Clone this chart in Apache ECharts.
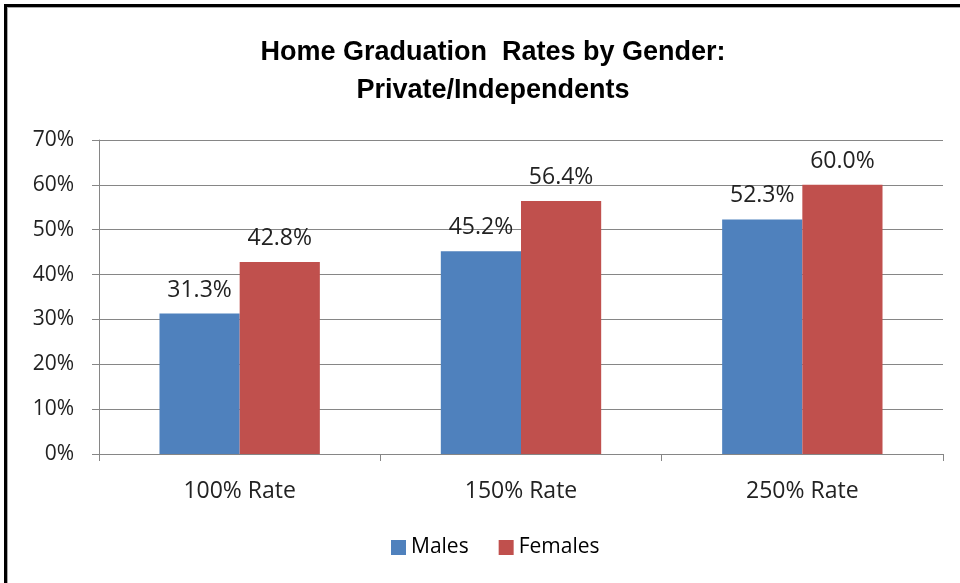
<!DOCTYPE html>
<html>
<head>
<meta charset="UTF-8">
<title>Home Graduation Rates by Gender</title>
<script src="https://cdn.jsdelivr.net/npm/echarts@6/dist/echarts.min.js"></script>
<style>
    html, body { margin: 0; padding: 0; background: #fff; }
    #frame {
        position: absolute; left: 4px; top: 4px; width: 960px; height: 590px;
        border-top: 3px solid #000; border-left: 3px solid #000;
        box-shadow: inset 1px 1px 0 #aaa;
    }
    #chart { position: absolute; left: 0; top: 0; width: 960px; height: 583px; }
</style>
</head>
<body>
<div id="frame"></div>
<div id="chart"></div>
<script>
    var categories = ['100% Rate', '150% Rate', '250% Rate'];
    var males = [31.3, 45.2, 52.3];
    var females = [42.8, 56.4, 60.0];

    var chart = echarts.init(document.getElementById('chart'));
    var labelStyle = {
        show: true,
        position: 'top',
        distance: 12,
        color: '#222',
        fontFamily: 'Open Sans',
        fontSize: 23,
        formatter: function (p) { return p.value.toFixed(1) + '%'; }
    };
    chart.setOption({
        animation: false,
        title: {
            text: 'Home Graduation  Rates by Gender:\nPrivate/Independents',
            left: 488,
            textAlign: 'center',
            top: 29,
            textStyle: {
                fontFamily: 'Liberation Sans',
                fontWeight: 'bold',
                fontSize: 27,
                lineHeight: 38,
                color: '#000'
            }
        },
        legend: {
            data: ['Males', 'Females'],
            top: 532,
            left: 386,
            itemWidth: 15,
            itemHeight: 15,
            itemGap: 30,
            icon: 'rect',
            textStyle: { fontFamily: 'Open Sans', fontSize: 21, color: '#000' }
        },
        grid: { left: 99, right: 17, top: 140, bottom: 129, containLabel: false },
        xAxis: {
            type: 'category',
            data: categories,
            axisLine: { lineStyle: { color: '#868686', width: 1 } },
            axisTick: { show: true, length: 7, lineStyle: { color: '#868686' } },
            axisLabel: { fontFamily: 'Open Sans', fontSize: 23, color: '#222', margin: 26 }
        },
        yAxis: {
            type: 'value',
            min: 0,
            max: 70,
            interval: 10,
            axisLine: { show: true, lineStyle: { color: '#868686' } },
            axisTick: { show: true, length: 7, lineStyle: { color: '#868686' } },
            splitLine: { lineStyle: { color: '#868686' } },
            axisLabel: {
                fontFamily: 'Open Sans', fontSize: 21, color: '#222', margin: 25,
                formatter: '{value}%'
            }
        },
        series: [
            {
                name: 'Males', type: 'bar', data: males,
                barGap: '0%', barCategoryGap: '43%',
                itemStyle: { color: '#4F81BD' },
                label: labelStyle
            },
            {
                name: 'Females', type: 'bar', data: females,
                itemStyle: { color: '#C0504D' },
                label: labelStyle
            }
        ]
    });
</script>
</body>
</html>
